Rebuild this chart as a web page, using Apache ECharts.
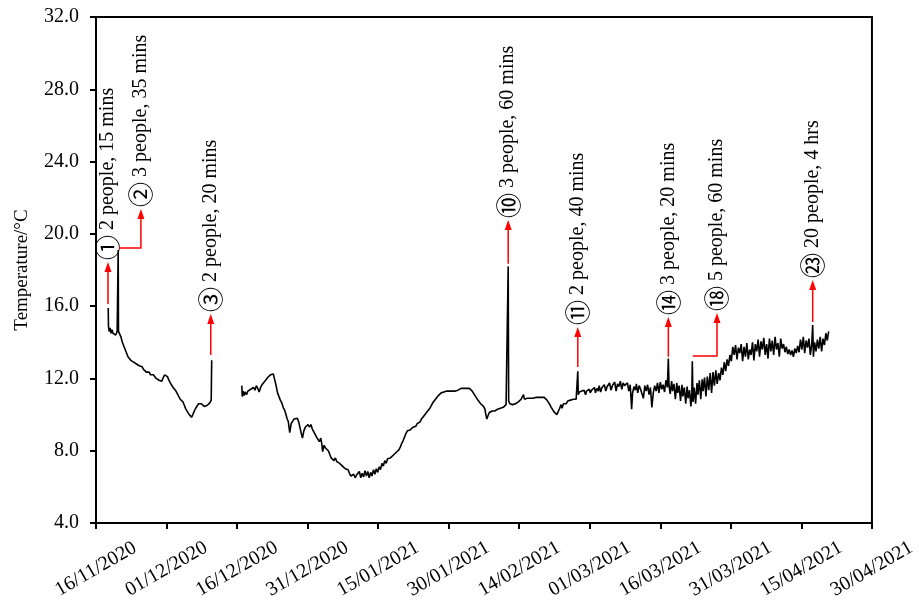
<!DOCTYPE html>
<html>
<head>
<meta charset="utf-8">
<script src="https://cdn.jsdelivr.net/npm/echarts@6/dist/echarts.min.js"></script>
<style>
  html, body { margin: 0; padding: 0; background: #fff; }
  #chart { width: 919px; height: 605px; }
</style>
</head>
<body>
<div id="chart"></div>
<script>
// Axis tick labels: one every 15 days from 16/11/2020 (day 0)
const tickDates = ['16/11/2020', '01/12/2020', '16/12/2020', '31/12/2020', '15/01/2021', '30/01/2021',
  '14/02/2021', '01/03/2021', '16/03/2021', '31/03/2021', '15/04/2021', '30/04/2021'];

// Logger readings [days since 16/11/2020, temperature °C], first deployment
const segmentA = [
  [2.6, 15.9], [2.65, 14.9], [2.8, 14.6], [3.0, 14.8], [3.2, 14.5], [3.4, 14.7], [3.6, 14.5], [3.9, 14.6],
  [4.2, 14.4], [4.5, 14.6], [4.68, 14.5], [4.72, 19.1], [4.78, 14.6], [5.0, 14.5], [5.3, 14.3], [5.6, 14.0],
  [5.9, 13.9], [6.2, 13.6], [6.5, 13.5], [6.8, 13.2], [7.1, 13.25], [7.4, 13.0], [7.7, 13.05], [8.0, 12.9],
  [8.3, 12.95], [8.6, 12.8], [8.9, 12.75], [9.2, 12.7], [9.5, 12.6], [9.8, 12.65], [10.1, 12.5], [10.4, 12.45],
  [10.7, 12.35], [11.0, 12.3], [11.3, 12.35], [11.6, 12.2], [11.9, 12.15], [12.2, 12.2], [12.5, 12.1], [12.8, 12.0],
  [13.1, 12.05], [13.4, 11.9], [13.7, 11.95], [14.0, 11.85], [14.3, 12.05], [14.6, 12.2], [14.9, 12.2], [15.2, 12.1],
  [15.5, 11.9], [15.8, 11.75], [16.1, 11.7], [16.4, 11.5], [16.7, 11.45], [17.0, 11.3], [17.3, 11.2], [17.6, 11.0],
  [17.9, 10.85], [18.2, 10.75], [18.5, 10.7], [18.8, 10.5], [19.1, 10.3], [19.4, 10.2], [19.7, 10.05], [20.0, 9.95],
  [20.3, 9.85], [20.6, 10.0], [20.9, 10.2], [21.2, 10.35], [21.5, 10.45], [21.8, 10.6], [22.1, 10.65], [22.4, 10.6],
  [22.7, 10.55], [23.0, 10.45], [23.3, 10.35], [23.6, 10.5], [23.9, 10.6], [24.2, 10.65], [24.5, 10.8], [24.6, 13.0]
];

// Logger readings, second deployment (December to April)
const segmentB = [
  [31.0, 11.6], [31.1, 11.0], [31.3, 11.3], [31.5, 11.05], [31.7, 11.25], [32.0, 11.1], [32.3, 11.3], [32.6, 11.2],
  [32.9, 11.4], [33.2, 11.3], [33.5, 11.5], [33.8, 11.35], [34.1, 11.6], [34.4, 11.45], [34.7, 11.25], [35.0, 11.5],
  [35.3, 11.65], [35.6, 11.75], [35.9, 11.85], [36.2, 11.95], [36.5, 12.05], [36.8, 12.15], [37.1, 12.2], [37.4, 12.15],
  [37.7, 12.25], [38.0, 12.2], [38.3, 11.6], [38.6, 11.2], [38.9, 11.1], [39.2, 10.8], [39.5, 10.65], [39.8, 10.4],
  [40.1, 10.25], [40.4, 10.0], [40.6, 9.8], [40.9, 9.6], [41.2, 9.0], [41.5, 9.5], [41.8, 9.6], [42.1, 9.75],
  [42.5, 9.7], [42.8, 9.8], [43.1, 9.6], [43.4, 9.5], [43.7, 8.9], [43.9, 8.7], [44.2, 9.1], [44.5, 9.3],
  [44.8, 9.25], [45.1, 9.45], [45.4, 9.3], [45.7, 9.45], [46.0, 9.2], [46.3, 9.1], [46.6, 8.9], [46.9, 8.75],
  [47.2, 8.8], [47.5, 8.5], [47.8, 8.7], [48.0, 8.4], [48.2, 7.95], [48.5, 8.3], [48.8, 8.15], [49.1, 8.25],
  [49.4, 8.0], [49.7, 7.8], [50.0, 7.6], [50.3, 7.7], [50.6, 7.45], [50.9, 7.6], [51.2, 7.4], [51.5, 7.5],
  [51.8, 7.3], [52.1, 7.35], [52.4, 7.15], [52.7, 7.2], [53.0, 7.0], [53.3, 6.9], [53.6, 6.95], [53.9, 6.75],
  [54.2, 6.6], [54.5, 6.55], [54.8, 6.7], [55.1, 6.5], [55.4, 6.65], [55.7, 6.55], [56.0, 6.85], [56.3, 6.5],
  [56.6, 6.75], [56.9, 6.55], [57.2, 6.9], [57.5, 6.6], [57.8, 6.85], [58.1, 6.5], [58.4, 6.8], [58.7, 6.6],
  [59.0, 6.95], [59.3, 6.7], [59.6, 7.0], [59.9, 6.8], [60.2, 7.1], [60.5, 6.95], [60.8, 7.3], [61.1, 7.15],
  [61.4, 7.45], [61.7, 7.3], [62.0, 7.55], [62.3, 7.45], [62.6, 7.6], [62.9, 7.5], [63.2, 7.75], [63.5, 7.7],
  [63.8, 7.9], [64.1, 7.85], [64.4, 8.05], [64.7, 8.2], [65.0, 8.4], [65.3, 8.55], [65.6, 8.75], [65.9, 8.95],
  [66.2, 9.1], [66.5, 9.2], [66.8, 9.15], [67.1, 9.2], [67.4, 9.3], [67.7, 9.25], [68.0, 9.35], [68.3, 9.5],
  [68.6, 9.5], [68.9, 9.6], [69.2, 9.75], [69.5, 9.85], [69.8, 9.95], [70.1, 10.05], [70.4, 10.15], [70.7, 10.25],
  [71.0, 10.35], [71.3, 10.5], [71.6, 10.65], [71.9, 10.75], [72.2, 10.85], [72.5, 10.95], [72.8, 11.05], [73.1, 11.15],
  [73.4, 11.2], [73.7, 11.3], [74.0, 11.25], [74.3, 11.35], [74.6, 11.3], [74.9, 11.25], [75.2, 11.3], [75.5, 11.2],
  [75.8, 11.3], [76.1, 11.35], [76.4, 11.3], [76.7, 11.4], [77.0, 11.35], [77.3, 11.4], [77.6, 11.45], [77.9, 11.4],
  [78.2, 11.45], [78.5, 11.4], [78.8, 11.45], [79.1, 11.5], [79.4, 11.45], [79.7, 11.4], [80.0, 11.3], [80.3, 11.2],
  [80.6, 11.05], [80.9, 10.95], [81.2, 10.8], [81.5, 10.7], [81.8, 10.6], [82.1, 10.55], [82.4, 10.45], [82.7, 10.3],
  [82.9, 10.0], [83.1, 9.75], [83.3, 9.8], [83.6, 10.1], [83.9, 10.15], [84.2, 10.2], [84.5, 10.25], [84.8, 10.2],
  [85.1, 10.3], [85.4, 10.3], [85.7, 10.25], [86.0, 10.35], [86.3, 10.4], [86.6, 10.4], [86.9, 10.5], [87.2, 10.55],
  [87.5, 10.6], [87.65, 18.2], [87.75, 10.75], [88.0, 10.6], [88.3, 10.5], [88.6, 10.55], [88.9, 10.6], [89.2, 10.6],
  [89.5, 10.65], [89.8, 10.7], [90.1, 10.8], [90.4, 10.85], [90.7, 10.95], [90.9, 11.1], [91.1, 10.85], [91.4, 10.9],
  [91.7, 10.9], [92.0, 10.85], [92.3, 10.9], [92.6, 10.95], [92.9, 10.9], [93.2, 10.95], [93.5, 10.95], [93.8, 11.0],
  [94.1, 10.95], [94.4, 11.0], [94.7, 10.95], [95.0, 10.9], [95.3, 10.95], [95.6, 10.9], [95.9, 10.8], [96.2, 10.7],
  [96.5, 10.55], [96.8, 10.4], [97.1, 10.3], [97.4, 10.15], [97.7, 10.05], [98.0, 10.0], [98.3, 10.1], [98.6, 10.35],
  [98.9, 10.55], [99.1, 10.35], [99.4, 10.6], [99.7, 10.7], [100.0, 10.6], [100.3, 10.75], [100.6, 10.7], [100.9, 10.8],
  [101.2, 10.75], [101.5, 10.85], [101.8, 10.8], [102.1, 10.85], [102.35, 10.9], [102.45, 12.4], [102.55, 11.1],
  [102.8, 11.25], [103.0, 11.15], [103.3, 11.3], [103.5, 11.2], [103.8, 11.35], [104.1, 11.1], [104.3, 11.3], [104.6, 11.25],
  [104.9, 11.4], [105.1, 11.2], [105.4, 11.35], [105.7, 11.3], [106.0, 11.5], [106.2, 11.2], [106.5, 11.45], [106.8, 11.3],
  [107.0, 11.6], [107.3, 11.25], [107.6, 11.5], [107.9, 11.4], [108.1, 11.65], [108.4, 11.3], [108.7, 11.55], [109.0, 11.45],
  [109.2, 11.75], [109.5, 11.35], [109.8, 11.6], [110.1, 11.5], [110.3, 11.8], [110.6, 11.3], [110.9, 11.7], [111.2, 11.55],
  [111.5, 11.85], [111.8, 11.4], [112.1, 11.75], [112.4, 11.6], [112.7, 11.5], [113.0, 11.75], [113.3, 11.3], [113.6, 11.65],
  [113.9, 10.3], [114.1, 11.2], [114.4, 11.55], [114.7, 11.35], [114.9, 11.7], [115.2, 11.2], [115.5, 11.6], [115.8, 11.4],
  [116.1, 11.5], [116.4, 10.9], [116.7, 11.6], [117.0, 11.3], [117.3, 11.65], [117.6, 11.1], [117.9, 11.5], [118.2, 10.4],
  [118.5, 11.2], [118.8, 11.6], [119.1, 11.3], [119.4, 11.75], [119.7, 11.2], [120.0, 11.8], [120.3, 11.4], [120.6, 11.65],
  [120.9, 11.25], [121.2, 11.9], [121.5, 11.5], [121.7, 13.1], [121.85, 11.6], [122.1, 11.15], [122.4, 11.85], [122.6, 11.3],
  [122.9, 11.7], [123.2, 10.85], [123.5, 11.75], [123.7, 11.2], [124.0, 11.6], [124.3, 10.75], [124.6, 11.65], [124.8, 11.0],
  [125.1, 11.5], [125.4, 10.6], [125.7, 11.55], [125.9, 10.9], [126.2, 11.35], [126.5, 10.45], [126.7, 11.2], [126.8, 12.95],
  [126.95, 10.7], [127.2, 11.5], [127.5, 10.6], [127.8, 11.75], [128.0, 11.1], [128.3, 11.9], [128.6, 10.85], [128.9, 11.95],
  [129.1, 11.3], [129.4, 12.05], [129.7, 11.0], [130.0, 12.1], [130.3, 11.35], [130.6, 12.3], [130.9, 11.2], [131.2, 12.35],
  [131.5, 11.6], [131.8, 12.45], [132.1, 11.7], [132.4, 12.3], [132.7, 11.9], [133.0, 12.6], [133.3, 12.2], [133.6, 12.9],
  [133.9, 12.4], [134.2, 13.05], [134.5, 12.7], [134.8, 13.3], [135.1, 12.95], [135.4, 13.75], [135.7, 13.3], [136.0, 13.85],
  [136.3, 13.05], [136.6, 13.7], [136.9, 13.4], [137.2, 13.9], [137.5, 12.95], [137.8, 13.75], [138.1, 13.2], [138.4, 13.95],
  [138.7, 13.05], [139.0, 13.6], [139.3, 13.3], [139.6, 14.0], [139.9, 13.0], [140.2, 13.9], [140.5, 13.5], [140.8, 14.15],
  [141.1, 13.2], [141.4, 14.05], [141.7, 13.6], [142.0, 14.25], [142.3, 13.3], [142.6, 13.9], [142.9, 13.1], [143.2, 14.2],
  [143.5, 13.5], [143.8, 14.1], [144.1, 13.3], [144.4, 14.3], [144.7, 13.6], [145.0, 13.95], [145.3, 13.2], [145.6, 14.2],
  [145.9, 13.65], [146.2, 13.9], [146.5, 13.45], [146.8, 13.75], [147.1, 13.35], [147.4, 13.6], [147.7, 13.3], [148.0, 13.55],
  [148.3, 13.2], [148.6, 13.65], [148.9, 13.4], [149.2, 13.8], [149.5, 13.45], [149.8, 14.15], [150.1, 13.6], [150.4, 14.3],
  [150.7, 13.4], [151.0, 14.1], [151.3, 13.7], [151.6, 14.2], [151.9, 13.3], [152.2, 13.9], [152.4, 14.95], [152.55, 13.2],
  [152.8, 14.0], [153.1, 13.5], [153.4, 14.15], [153.7, 13.65], [154.0, 14.3], [154.3, 13.5], [154.6, 14.2], [154.9, 13.85],
  [155.2, 14.5], [155.5, 14.1], [155.8, 14.6]
];

// Occupancy events: circled index, caption, arrow column (day), arrow foot and tip (°C),
// and for bent arrows the day where the horizontal leg starts
const eventMarks = ['①', '②', '③', '⑩', '⑪', '⑭', '⑱', '㉓'];
const eventTexts = ['2 people, 15 mins', '3 people, 35 mins', '2 people, 20 mins', '3 people, 60 mins',
  '2 people, 40 mins', '3 people, 20 mins', '5 people, 60 mins', '20 people, 4 hrs'];
const eventDays = [2.55, 9.55, 24.4, 87.65, 102.45, 121.7, 132.05, 152.4];
const eventFoot = [16.12, 19.22, 13.3, 18.35, 12.63, 13.2, 13.24, 15.12];
const eventTip = [18.44, 21.38, 15.57, 20.77, 14.85, 15.4, 15.62, 17.45];
const eventBendFrom = [null, 4.85, null, null, null, null, 126.9, null];

const serif = '"Liberation Serif", "Times New Roman", "Noto Sans CJK SC", serif';
const chart = echarts.init(document.getElementById('chart'), null, { renderer: 'canvas' });

chart.setOption({
  animation: false,
  backgroundColor: '#fff',
  grid: { left: 96, right: 46, top: 17, bottom: 82, show: true, borderColor: '#000', borderWidth: 2 },
  xAxis: {
    type: 'value', min: 0, max: 165, interval: 15,
    axisLine: { lineStyle: { color: '#000', width: 2 } },
    axisTick: { show: true, length: 6, lineStyle: { color: '#000', width: 2 } },
    splitLine: { show: false },
    axisLabel: {
      rotate: 30, align: 'center', verticalAlign: 'middle', margin: 46,
      fontFamily: serif, fontSize: 20, color: '#000',
      formatter: v => tickDates[Math.round(v / 15)] || ''
    }
  },
  yAxis: {
    type: 'value', min: 4, max: 32, interval: 4,
    name: 'Temperature/°C', nameLocation: 'middle', nameGap: 64,
    nameTextStyle: { fontFamily: serif, fontSize: 19, color: '#000' },
    axisLine: { show: true, lineStyle: { color: '#000', width: 2 } },
    axisTick: { show: true, length: 6, lineStyle: { color: '#000', width: 2 } },
    splitLine: { show: false },
    axisLabel: { margin: 17, fontFamily: serif, fontSize: 20, color: '#000', formatter: v => v.toFixed(1) }
  },
  series: [{
    type: 'line',
    data: segmentA.concat([[27, null]], segmentB),
    showSymbol: false,
    connectNulls: false,
    lineStyle: { color: '#000', width: 1.6 },
    emphasis: { disabled: true }
  }]
});

// Red arrows and rotated captions placed from data coordinates
const px = (d, t) => chart.convertToPixel({ gridIndex: 0 }, [d, t]);
const elements = [];
const headLen = 10, headHalf = 3.5;
eventTexts.forEach((caption, i) => {
  const foot = px(eventDays[i], eventFoot[i]);
  const tip = px(eventDays[i], eventTip[i]);
  const pts = [];
  if (eventBendFrom[i] !== null) {
    const start = px(eventBendFrom[i], eventFoot[i]);
    pts.push([start[0], foot[1]]);
  }
  pts.push([foot[0], foot[1]], [tip[0], tip[1] + headLen - 1]);
  elements.push({
    type: 'polyline', silent: true,
    shape: { points: pts },
    style: { stroke: '#ff0000', lineWidth: 1.5, fill: null }
  });
  elements.push({
    type: 'polygon', silent: true,
    shape: { points: [[tip[0], tip[1]], [tip[0] - headHalf, tip[1] + headLen], [tip[0] + headHalf, tip[1] + headLen]] },
    style: { fill: '#ff0000' }
  });
  elements.push({
    type: 'text', silent: true,
    x: tip[0], y: tip[1] - 2, rotation: Math.PI / 2,
    style: {
      text: '{c|' + eventMarks[i] + '} ' + caption,
      fontFamily: serif, fontSize: 20, fill: '#000', align: 'left', verticalAlign: 'middle',
      rich: { c: { fontFamily: '"Noto Sans CJK SC", sans-serif', fontSize: 25, fill: '#000' } }
    }
  });
});
chart.setOption({ graphic: elements });
</script>
</body>
</html>
